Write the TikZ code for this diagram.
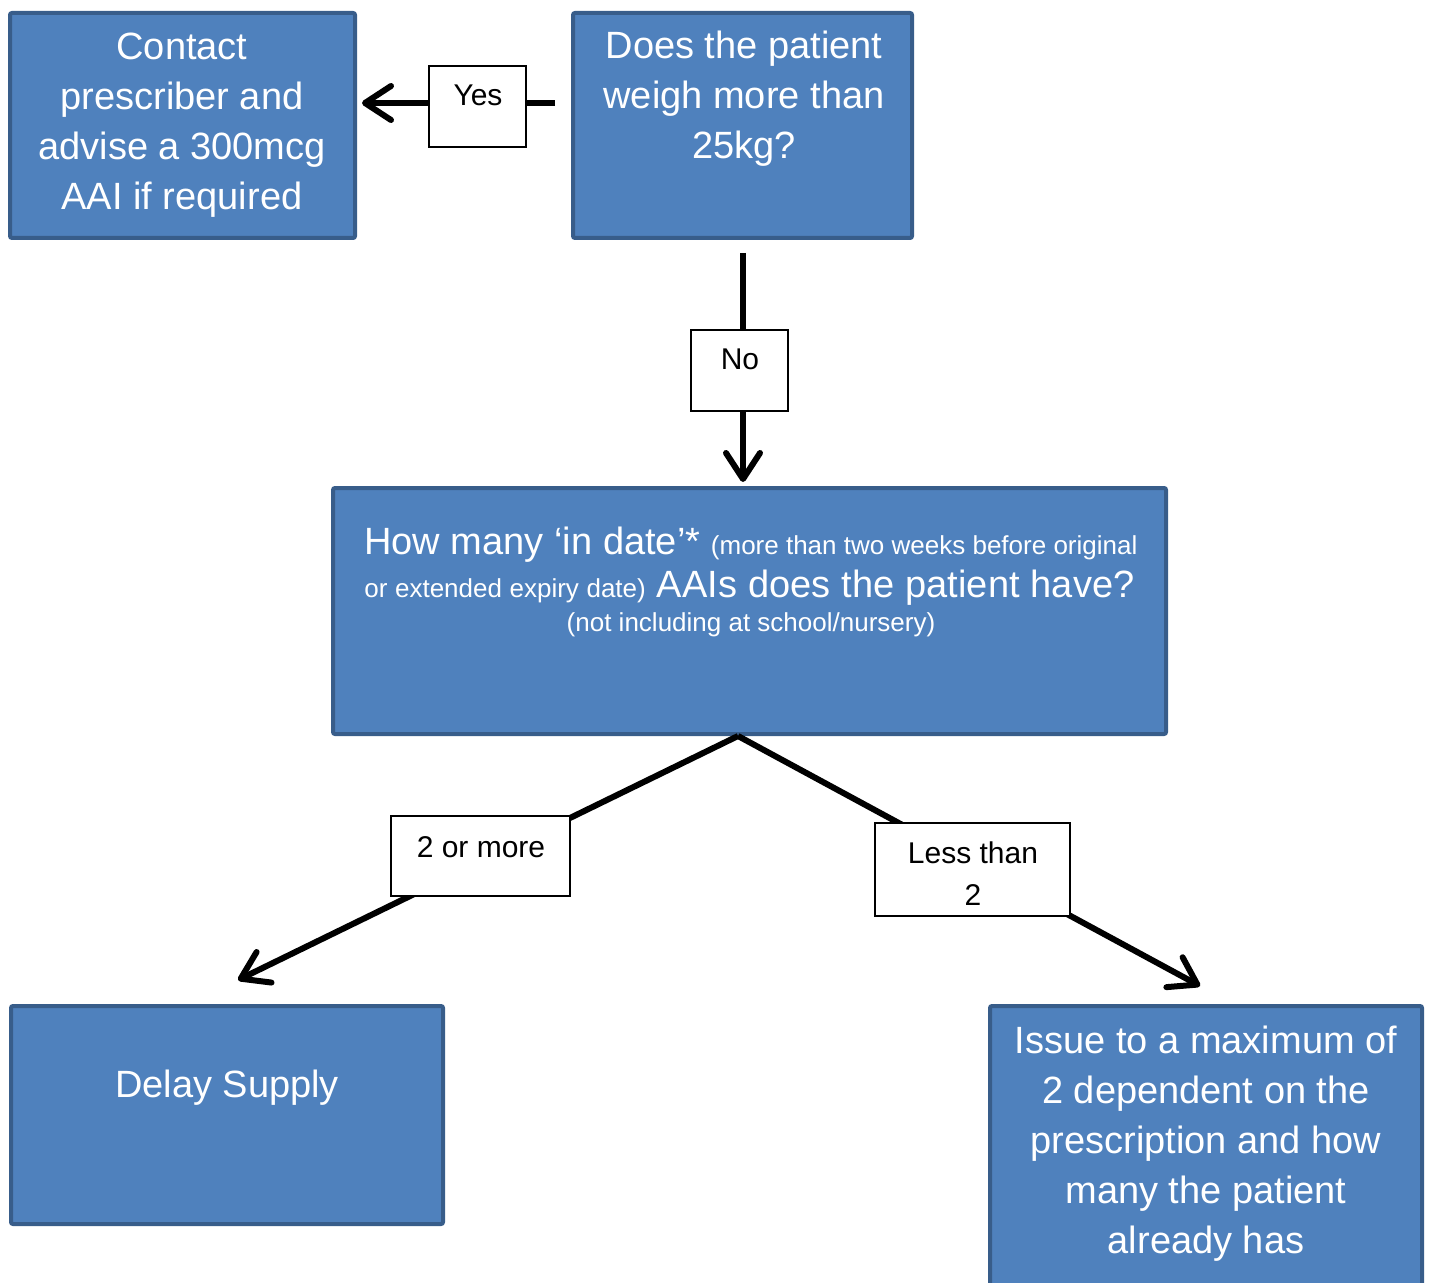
\documentclass[tikz,border=0pt]{standalone}
\usepackage{fontspec}
\setmainfont{Liberation Sans}
\usetikzlibrary{arrows.meta}
\definecolor{boxfill}{HTML}{4F81BD}
\definecolor{boxline}{HTML}{385D8A}
\tikzset{
  bluebox/.style={draw=boxline, fill=boxfill, line width=2pt, rounded corners=1pt, inner sep=0pt},
  lblbox/.style={draw=black, fill=white, line width=1pt, inner sep=0pt},
  boxtext/.style={text=white, inner sep=0pt, align=center, font=\fontsize{19pt}{25pt}\selectfont},
  lbltext/.style={text=black, inner sep=0pt, align=center, font=\fontsize{15pt}{21pt}\selectfont},
  arr/.style={line width=3pt, -{Straight Barb[round, length=13pt, width=17pt]}},
}
\newcommand{\smalltxt}{\fontsize{13pt}{15pt}\selectfont}
\begin{document}
\begin{tikzpicture}[x=0.5pt, y=-0.5pt]
\useasboundingbox (0,0) rectangle (1433,1283);
% boxes
\node[bluebox, minimum width=172.5pt, minimum height=112.5pt] (contact) at (182.5,125.5) {};
\node[bluebox, minimum width=169.5pt, minimum height=112.5pt] (weigh) at (742.5,125.5) {};
\node[bluebox, minimum width=416.5pt, minimum height=123pt] (middle) at (749.5,611) {};
\node[bluebox, minimum width=216pt, minimum height=109pt] (delay) at (227,1115) {};
\node[bluebox, minimum width=216pt, minimum height=151pt] (issue) at (1206,1157) {};
% connectors
\draw[arr] ([shift={(-16,-22.5)}]weigh.west) -- ([shift={(5,-22.5)}]contact.east);
\draw[arr] ([shift={(0.5,13)}]weigh.south) -- ([shift={(-6.5,-4)}]middle.north);
\draw[arr] ([shift={(-11.5,0)}]middle.south) -- ([shift={(11,-24)}]delay.north);
\draw[arr] ([shift={(-11.5,0)}]middle.south) -- ([shift={(-6,-18)}]issue.north);
% label boxes
\node[lblbox, minimum width=48.5pt, minimum height=40.5pt] (yes) at (477.5,106.5) {};
\node[lblbox, minimum width=48.5pt, minimum height=40.5pt] (no) at (739.5,370.5) {};
\node[lblbox, minimum width=89.5pt, minimum height=40pt] (more) at (480.5,856) {};
\node[lblbox, minimum width=97.5pt, minimum height=46.5pt] (less) at (972.5,869.5) {};
% label texts
\node[lbltext, anchor=base] (yesT) at (478,106) {Yes};
\node[lbltext, anchor=base] (noT) at (740,370) {No};
\node[lbltext, anchor=base] (moreT) at (481,857) {2 or more};
\node[lbltext, anchor=north] (lessT) at (973,841) {\rule{0pt}{11pt}Less than\\2};
% box texts
\node[boxtext, anchor=north] (contactT) at (182,31) {\rule{0pt}{14pt}Contact\\prescriber and\\advise a 300mcg\\AAI if required};
\node[boxtext, anchor=north] (weighT) at (744,30) {\rule{0pt}{14pt}Does the patient\\weigh more than\\25kg?};
\node[boxtext, anchor=base west] (midT1) at (364,554) {\makebox[386.5pt][s]{How many ‘in date’* {\smalltxt (more than two weeks before original}}};
\node[boxtext, anchor=base west] (midT2) at (364,597) {\makebox[385pt][s]{{\smalltxt or extended expiry date)} AAIs does the patient have?}};
\node[boxtext, anchor=base] (midT3) at (751,631) {\smalltxt (not including at school/nursery)};
\node[boxtext, anchor=base] (delayT) at (227,1097) {Delay Supply};
\node[boxtext, anchor=north] (issueT) at (1206,1025) {\rule{0pt}{14pt}Issue to a maximum of\\2 dependent on the\\prescription and how\\many the patient\\already has};
\end{tikzpicture}
\end{document}
